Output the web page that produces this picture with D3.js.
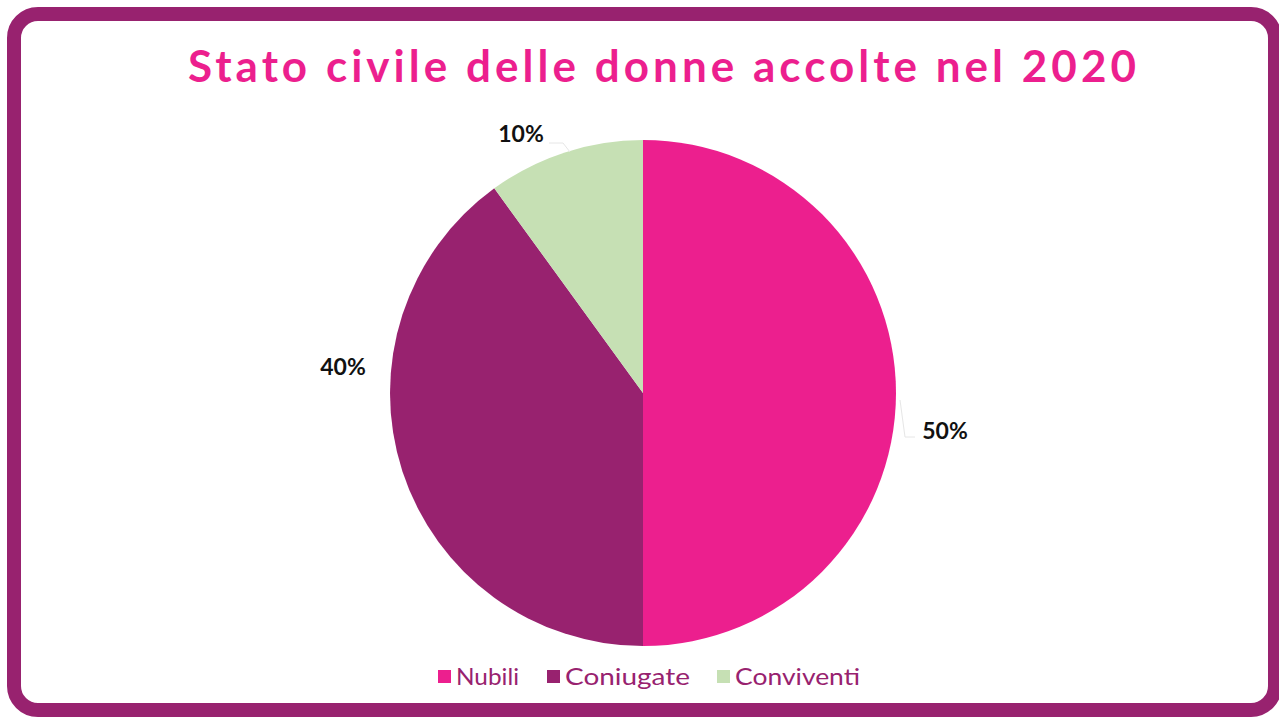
<!DOCTYPE html>
<html>
<head>
<meta charset="utf-8">
<script src="https://cdn.jsdelivr.net/npm/d3@7"></script>
<style>
  body { margin: 0; background: #fff; }
  svg { display: block; }
</style>
</head>
<body>
<svg id="chart" width="1279" height="717"></svg>
<script>
var categories = ['Nubili', 'Coniugate', 'Conviventi'];
var values = [50, 40, 10];
var labels = ['50%', '40%', '10%'];
var colors = ['#EC1F8E', '#98226F', '#C6E0B4'];

var svg = d3.select('#chart');
var cx = 643, cy = 393, r = 253;

// frame
svg.append('rect')
  .attr('x', 14).attr('y', 14)
  .attr('width', 1261).attr('height', 696)
  .attr('rx', 24).attr('ry', 24)
  .attr('fill', '#fff')
  .attr('stroke', '#98226F')
  .attr('stroke-width', 14);

// title
svg.append('text')
  .attr('x', 662).attr('y', 82)
  .attr('text-anchor', 'middle')
  .attr('font-family', 'Lato, sans-serif')
  .attr('font-weight', 'bold')
  .attr('font-size', 44)
  .attr('fill', '#EC1F8E')
  .attr('textLength', 948)
  .attr('lengthAdjust', 'spacing')
  .text('Stato civile delle donne accolte nel 2020');

var pie = d3.pie().sort(null).value(function(d) { return d; });
var arcs = pie(values);
var arc = d3.arc().innerRadius(0).outerRadius(r);

var g = svg.append('g').attr('transform', 'translate(' + cx + ',' + cy + ')');

g.selectAll('path')
  .data(arcs)
  .enter().append('path')
  .attr('d', arc)
  .attr('fill', function(d, i) { return colors[i]; });

// leader lines (faint)
var leaders = [
  [[257, 7], [262, 44], [272, 44]],
  null,
  [[-73, -241], [-80, -250], [-94, -250]]
];
leaders.forEach(function(pts) {
  if (!pts) return;
  g.append('polyline')
    .attr('points', pts.map(function(p) { return p.join(','); }).join(' '))
    .attr('fill', 'none')
    .attr('stroke', '#e6e6e6')
    .attr('stroke-width', 1);
});

// data labels
var labelPos = [[302, 37], [-300, -27], [-122, -260]];
g.selectAll('text.lbl')
  .data(arcs)
  .enter().append('text')
  .attr('class', 'lbl')
  .attr('x', function(d, i) { return labelPos[i][0]; })
  .attr('y', function(d, i) { return labelPos[i][1]; })
  .attr('text-anchor', 'middle')
  .attr('dominant-baseline', 'central')
  .attr('font-family', 'Lato, sans-serif')
  .attr('font-weight', 'bold')
  .attr('font-size', 23)
  .attr('fill', '#111')
  .text(function(d, i) { return labels[i]; });

// legend
var legX = [438, 547, 717];
var legW = [63, 125, 125];
var leg = svg.append('g');
categories.forEach(function(c, i) {
  leg.append('rect')
    .attr('x', legX[i]).attr('y', 670)
    .attr('width', 13).attr('height', 13)
    .attr('fill', colors[i]);
  leg.append('text')
    .attr('x', legX[i] + 18).attr('y', 685)
    .attr('font-family', 'Lato, sans-serif')
    .attr('font-size', 24)
    .attr('fill', '#98226F')
    .attr('textLength', legW[i])
    .attr('lengthAdjust', 'spacingAndGlyphs')
    .text(c);
});
</script>
</body>
</html>
